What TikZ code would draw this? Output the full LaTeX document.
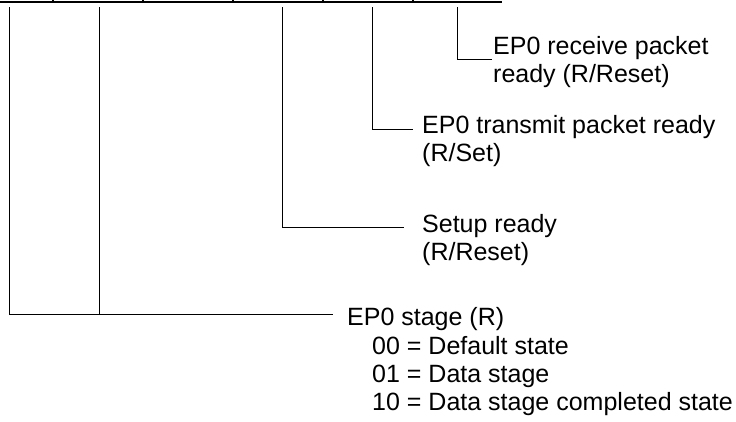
\documentclass[tikz,border=0pt]{standalone}
\usepackage{fontspec}
\setmainfont{Liberation Sans}
\begin{document}
\begin{tikzpicture}[x=1pt,y=-1pt,
  lbl/.style={anchor=base west,inner sep=0pt,font=\fontsize{25}{28}\selectfont},
  lead/.style={line width=0.9pt,black},
  reg/.style={line width=1.8pt,black}]
\useasboundingbox (0,0) rectangle (736,421);
% register bottom edge and cell dividers
\coordinate (r0) at (0,2);
\coordinate (r1) at (502,2);
\draw[reg] (r0) -- (r1);
\foreach \x in {53,143,233,323,413}{
  \draw[line width=1.2pt] (\x,0) -- (\x,2.5);
}
% bit leads starting points
\coordinate (b1) at (9,7);
\coordinate (b2) at (99,7);
\coordinate (b3) at (282,7);
\coordinate (b4) at (372,7);
\coordinate (b5) at (457,7);
% labels
\node[lbl] (rx1) at (493,54) {EP0 receive packet};
\node[lbl] (rx2) at (493,82) {ready (R/Reset)};
\node[lbl] (tx1) at (422,133) {EP0 transmit packet ready};
\node[lbl] (tx2) at (422,161) {(R/Set)};
\node[lbl] (su1) at (422,232) {Setup ready};
\node[lbl] (su2) at (422,260) {(R/Reset)};
\node[lbl] (st0) at (347,325) {EP0 stage (R)};
\node[lbl] (st1) at (372,354) {00 = Default state};
\node[lbl] (st2) at (372,382) {01 = Data stage};
\node[lbl] (st3) at (372,410) {10 = Data stage completed state};
% lead end points
\coordinate (e5) at (492,59);
\coordinate (e4) at (413,129);
\coordinate (e3) at (404,227);
\coordinate (e1) at (333,314);
\coordinate (j2) at (99,314);
% leads
\draw[lead] (b5) |- (e5);
\draw[lead] (b4) |- (e4);
\draw[lead] (b3) |- (e3);
\draw[lead] (b1) |- (e1);
\draw[lead] (b2) -- (j2);
\end{tikzpicture}
\end{document}
